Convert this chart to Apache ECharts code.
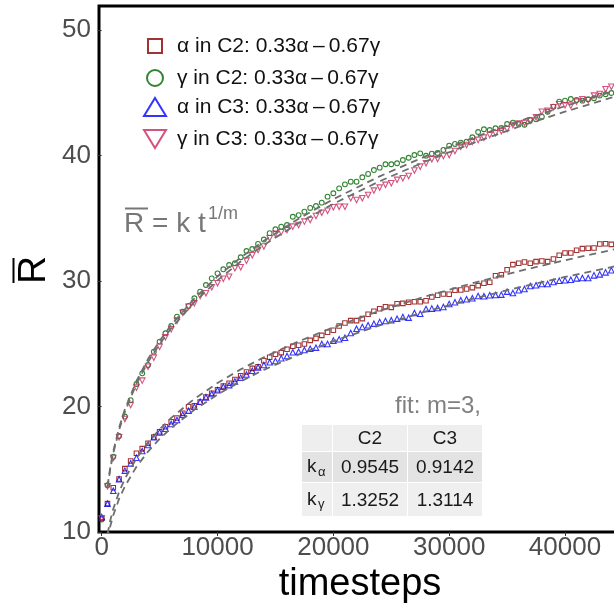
<!DOCTYPE html>
<html><head><meta charset="utf-8">
<script src="https://cdn.jsdelivr.net/npm/echarts@6/dist/echarts.min.js"></script>
<style>html,body{margin:0;padding:0;background:#fff}#c{width:614px;height:608px}</style>
</head><body><div id="c"></div>
<script>
// sampling grid of the simulation output (every 500 timesteps)
const timesteps = Array.from({length: 89}, (_, i) => i * 500);

const alphaC2 = [11.09,12.26,13.53,14.22,15.05,15.66,16.27,16.64,17.07,17.57,17.99,18.39,18.79,19.08,19.46,19.98,20.06,20.36,20.76,21.05,21.34,
21.63,21.85,22.15,22.45,22.75,23.04,23.17,23.65,23.92,24.16,24.29,24.56,24.80,24.88,24.98,25.27,25.43,25.67,25.91,26.07,
26.41,26.65,26.84,26.84,27.00,27.35,27.59,27.79,27.95,27.90,28.19,28.22,28.30,28.35,28.35,28.43,28.72,28.86,28.96,28.94,
29.26,29.28,29.36,29.47,29.63,29.82,29.90,30.42,30.50,30.90,31.30,31.41,31.51,31.41,31.54,31.59,31.54,31.75,32.05,32.23,
32.23,32.45,32.58,32.61,32.63,32.95,32.97,32.92];

const gammaC2 = [11.00,13.72,16.00,17.65,19.20,20.50,21.79,22.64,23.31,24.37,25.17,25.83,26.41,27.16,27.55,28.01,28.62,29.15,29.68,30.21,30.61,
30.93,31.27,31.41,31.89,32.39,32.55,32.95,33.30,33.81,34.12,34.33,34.46,35.12,35.25,35.52,35.82,35.97,36.24,36.72,36.99,
37.38,37.70,37.91,37.91,38.26,38.53,38.84,39.03,39.30,39.30,39.38,39.64,39.82,40.04,40.17,39.98,40.14,40.20,40.44,40.78,
40.92,41.02,41.10,41.45,41.87,42.09,42.03,42.17,42.19,42.51,42.61,42.51,42.45,42.83,42.88,43.09,43.49,43.89,44.29,44.37,
44.50,44.42,44.37,44.48,44.56,44.77,44.88,44.98];

const alphaC3 = [11.20,12.26,13.29,14.20,14.89,15.47,15.92,16.45,16.93,17.55,17.94,18.23,18.61,18.92,19.35,19.67,19.98,20.38,20.73,21.00,21.30,
21.58,21.70,22.00,22.30,22.55,22.85,23.12,23.31,23.52,23.63,23.84,24.02,24.32,24.37,24.50,24.61,24.69,24.98,24.98,25.25,
25.36,25.48,25.86,26.20,26.33,26.47,26.60,26.73,26.81,26.87,27.00,27.13,27.08,27.45,27.39,27.77,27.80,27.85,27.93,28.17,
28.30,28.46,28.54,28.62,28.80,28.78,28.86,28.88,28.91,29.15,29.04,29.26,29.36,29.60,29.66,29.76,29.76,29.92,30.02,30.06,
30.10,30.21,30.24,30.24,30.45,30.53,30.69,30.85];

const gammaC3 = [11.10,13.65,15.90,17.55,19.00,20.12,21.50,22.06,23.17,23.89,24.76,25.51,26.15,26.84,27.47,27.95,28.22,28.80,29.02,29.50,29.82,
30.18,30.34,31.01,31.09,31.62,32.05,32.47,32.75,33.41,33.75,33.88,34.06,34.33,34.46,34.73,34.86,35.18,35.44,35.60,35.87,
35.92,35.92,36.59,36.45,36.59,36.85,37.20,37.44,37.66,37.79,38.06,38.19,38.37,38.80,39.11,39.38,39.70,39.72,39.96,40.04,
40.36,40.70,40.84,41.10,41.24,41.42,41.63,41.77,41.93,42.11,42.43,42.54,42.59,42.78,43.04,43.49,43.55,43.84,44.08,44.00,
43.97,44.29,44.48,44.40,44.77,44.90,45.28,45.48];

// fitted curves (dashed)
const fitTimesteps = [500,750,1000,1500,2000,3000,4000,5000,6000,8000,10000,12000,14000,17000,20000,24000,28000,32000,36000,40000,44000,46000];
const fitAlphaC2 = [9.84,10.96,11.84,13.19,14.24,15.87,17.13,18.18,19.09,20.61,21.87,22.96,23.92,25.19,26.31,27.62,28.78,29.82,30.78,31.65,32.47,32.85];
const fitAlphaC3 = [9.43,10.50,11.34,12.64,13.64,15.20,16.41,17.42,18.29,19.74,20.95,22.00,22.92,24.13,25.21,26.46,27.57,28.57,29.49,30.32,31.11,31.47];
const fitGammaC2 = [13.66,15.21,16.43,18.31,19.77,22.03,23.78,25.23,26.50,28.61,30.36,31.87,33.20,34.96,36.52,38.34,39.95,41.39,42.72,43.93,45.07,45.60];
const fitGammaC3 = [13.52,15.06,16.27,18.12,19.57,21.81,23.54,24.98,26.23,28.32,30.05,31.55,32.87,34.61,36.15,37.95,39.54,40.97,42.29,43.49,44.61,45.14];

const xTicks = [0, 10000, 20000, 30000, 40000];
const yTicks = [10, 20, 30, 40, 50];

const seriesNames = [
  'α in C2: 0.33α\u2009\u2013\u20090.67γ',
  'γ in C2: 0.33α\u2009\u2013\u20090.67γ',
  'α in C3: 0.33α\u2009\u2013\u20090.67γ',
  'γ in C3: 0.33α\u2009\u2013\u20090.67γ'
];
const tableHeader = ['C2', 'C3'];
const kAlpha = ['0.9545', '0.9142'];
const kGamma = ['1.3252', '1.3114'];
const fitLabel = 'fit: m=3,';

const COLORS = ['#8B0000', '#006400', '#0000FF', '#C8285E'];
const FONT = 'Liberation Sans';

function pts(ys) { return timesteps.map((t, i) => [t, ys[i]]); }
function fitPts(ys) { return fitTimesteps.map((t, i) => [t, ys[i]]); }

function scat(name, ys, symbol, color, size, rot) {
  return {
    type: 'scatter', name, data: pts(ys), symbol, symbolSize: size, symbolRotate: rot || 0,
    itemStyle: { color: 'rgba(255,255,255,0)', borderColor: color, borderWidth: 1.1 },
    silent: true, z: 2
  };
}
function fitLine(ys) {
  return {
    type: 'line', data: fitPts(ys), symbol: 'none', showSymbol: false, silent: true, z: 3,
    lineStyle: { color: '#6e6e6e', width: 1.8, type: [7, 5] }
  };
}

const legendSpec = [
  { w: 14, h: 14, center: 46, pad: 10, icon: 'rect' },
  { w: 16, h: 16, center: 78, pad: 9, icon: 'circle' },
  { w: 22, h: 18, center: 107, pad: 6, icon: 'triangle' },
  { w: 22, h: 18, center: 139, pad: 6, icon: 'path://M0,0L22,0L11,18Z' }
];
const legends = seriesNames.map((n, i) => ({
  data: [{ name: n, icon: legendSpec[i].icon, itemStyle: { borderWidth: 2, color: 'rgba(255,255,255,0)', borderColor: COLORS[i] } }],
  orient: 'vertical', left: 154 - legendSpec[i].w / 2, top: legendSpec[i].center - 10.5,
  padding: 0, itemWidth: legendSpec[i].w, itemHeight: legendSpec[i].h, selectedMode: false,
  itemStyle: { borderWidth: 2 },
  textStyle: { fontFamily: FONT, fontSize: 21, color: '#111', padding: [0, 0, 0, legendSpec[i].pad] }
}));

// table annotation
const cols = [[302, 332], [333, 407], [408, 482]];
const rows = [[425, 451], [452, 482], [483, 516]];
const rowFill = ['#EEEEEE', '#E3E3E3', '#EFEFEF'];
const graphics = [];
rows.forEach((r, ri) => cols.forEach((c) => {
  graphics.push({ type: 'rect', shape: { x: c[0], y: r[0], width: c[1] - c[0], height: r[1] - r[0] },
    style: { fill: rowFill[ri] }, silent: true });
}));
const cellText = (txt, ci, ri) => ({ type: 'text', x: (cols[ci][0] + cols[ci][1]) / 2, y: (rows[ri][0] + rows[ri][1]) / 2 + 1,
  style: { text: txt, font: '19px ' + FONT, fill: '#1a1a1a', align: 'center', verticalAlign: 'middle' }, silent: true });
tableHeader.forEach((h, i) => graphics.push(cellText(h, i + 1, 0)));
kAlpha.forEach((v, i) => graphics.push(cellText(v, i + 1, 1)));
kGamma.forEach((v, i) => graphics.push(cellText(v, i + 1, 2)));
[['α', 1], ['γ', 2]].forEach(([g, ri]) => {
  const cy = (rows[ri][0] + rows[ri][1]) / 2;
  graphics.push({ type: 'text', x: 307, y: cy, style: { text: 'k', font: '19px ' + FONT, fill: '#1a1a1a', align: 'left', verticalAlign: 'middle' }, silent: true });
  graphics.push({ type: 'text', x: 318, y: cy + 5, style: { text: g, font: '13px ' + FONT, fill: '#1a1a1a', align: 'left', verticalAlign: 'middle' }, silent: true });
});
graphics.push({ type: 'text', x: 481, y: 406, style: { text: fitLabel, font: '24px ' + FONT, fill: '#808080', align: 'right', verticalAlign: 'middle' }, silent: true });

// formula annotation  R̄ = k t^(1/m)
graphics.push({ type: 'text', x: 124, y: 224, style: { text: 'R = k t', font: '28px ' + FONT, fill: '#777777', align: 'left', verticalAlign: 'middle' }, silent: true });
graphics.push({ type: 'line', shape: { x1: 125, y1: 208.5, x2: 148, y2: 208.5 }, style: { stroke: '#777777', lineWidth: 2 }, silent: true });
graphics.push({ type: 'text', x: 208, y: 214, style: { text: '1/m', font: '18px ' + FONT, fill: '#777777', align: 'left', verticalAlign: 'middle' }, silent: true });

// axis titles
graphics.push({ type: 'text', x: 34, y: 270, rotation: Math.PI / 2, style: { text: 'R', font: '39px ' + FONT, fill: '#000', align: 'center', verticalAlign: 'middle' }, silent: true });
graphics.push({ type: 'line', shape: { x1: 13.5, y1: 258, x2: 13.5, y2: 283 }, style: { stroke: '#000', lineWidth: 2 }, silent: true });
graphics.push({ type: 'text', x: 360, y: 585, style: { text: 'timesteps', font: '38px ' + FONT, fill: '#000', align: 'center', verticalAlign: 'middle' }, silent: true });

const chart = echarts.init(document.getElementById('c'), null, { renderer: 'canvas' });
chart.setOption({
  animation: false,
  backgroundColor: '#fff',
  grid: { left: 99, top: 6, right: -7, bottom: 76, show: true, borderColor: '#000', borderWidth: 3, backgroundColor: 'transparent',
          containLabel: false, outerBoundsMode: 'none' },
  xAxis: {
    type: 'value', min: -233, max: 44833,
    axisLine: { show: false }, splitLine: { show: false },
    axisTick: { show: true, length: 4, lineStyle: { color: '#333', width: 1 }, customValues: xTicks },
    axisLabel: { customValues: xTicks, formatter: v => String(v), fontFamily: FONT, fontSize: 26, color: '#4D4D4D', margin: 3 }
  },
  yAxis: {
    type: 'value', min: 10, max: 51.91,
    axisLine: { show: false }, splitLine: { show: false },
    axisTick: { show: true, length: 4, lineStyle: { color: '#333', width: 1 }, customValues: yTicks },
    axisLabel: { customValues: yTicks, formatter: v => String(v), fontFamily: FONT, fontSize: 26, color: '#4D4D4D', margin: 8 }
  },
  legend: legends,
  series: [
    scat(seriesNames[0], alphaC2, 'rect', COLORS[0], 4.5),
    scat(seriesNames[1], gammaC2, 'circle', COLORS[1], 4.8),
    scat(seriesNames[2], alphaC3, 'triangle', COLORS[2], 5.5),
    scat(seriesNames[3], gammaC3, 'triangle', COLORS[3], 5.5, 180),
    fitLine(fitAlphaC2), fitLine(fitAlphaC3), fitLine(fitGammaC2), fitLine(fitGammaC3)
  ],
  graphic: graphics
});
</script></body></html>
